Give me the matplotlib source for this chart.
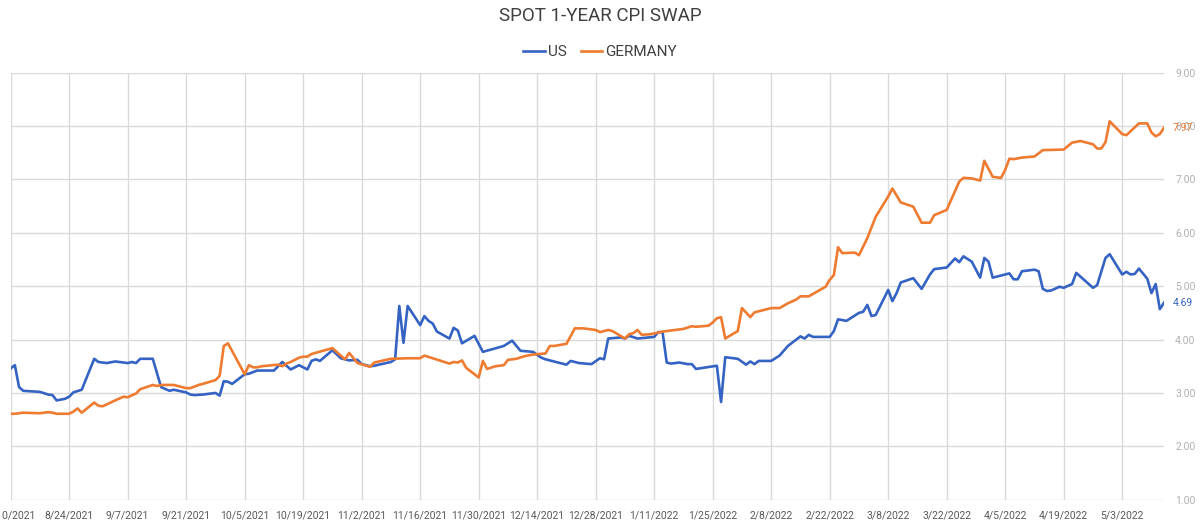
import pandas as pd
import matplotlib.pyplot as plt

plt.rcParams['font.family'] = ['Roboto', 'DejaVu Sans']

# US 1-year CPI swap (date, value)
us_dates = [
    '2021-08-10', '2021-08-11', '2021-08-12', '2021-08-13', '2021-08-17', '2021-08-19', '2021-08-20',
    '2021-08-21', '2021-08-23', '2021-08-24', '2021-08-25', '2021-08-27', '2021-08-30', '2021-08-31',
    '2021-09-02', '2021-09-04', '2021-09-07', '2021-09-08', '2021-09-09', '2021-09-10', '2021-09-13',
    '2021-09-15', '2021-09-17', '2021-09-18', '2021-09-21', '2021-09-22', '2021-09-23', '2021-09-25',
    '2021-09-28', '2021-09-29', '2021-09-30', '2021-10-01', '2021-10-02', '2021-10-05', '2021-10-06',
    '2021-10-08', '2021-10-12', '2021-10-14', '2021-10-16', '2021-10-17', '2021-10-18', '2021-10-20',
    '2021-10-21', '2021-10-22', '2021-10-23', '2021-10-26', '2021-10-28', '2021-10-30', '2021-11-01',
    '2021-11-02', '2021-11-04', '2021-11-05', '2021-11-09', '2021-11-10', '2021-11-11', '2021-11-12',
    '2021-11-13', '2021-11-16', '2021-11-17', '2021-11-18', '2021-11-19', '2021-11-20', '2021-11-23',
    '2021-11-24', '2021-11-25', '2021-11-26', '2021-11-29', '2021-12-01', '2021-12-06', '2021-12-08',
    '2021-12-10', '2021-12-13', '2021-12-15', '2021-12-16', '2021-12-21', '2021-12-22', '2021-12-24',
    '2021-12-27', '2021-12-29', '2021-12-30', '2021-12-31', '2022-01-03', '2022-01-04', '2022-01-05',
    '2022-01-07', '2022-01-11', '2022-01-12', '2022-01-13', '2022-01-14', '2022-01-15', '2022-01-17',
    '2022-01-19', '2022-01-20', '2022-01-21', '2022-01-26', '2022-01-27', '2022-01-28', '2022-01-31',
    '2022-02-02', '2022-02-03', '2022-02-04', '2022-02-05', '2022-02-08', '2022-02-10', '2022-02-12',
    '2022-02-15', '2022-02-16', '2022-02-17', '2022-02-18', '2022-02-22', '2022-02-23', '2022-02-24',
    '2022-02-26', '2022-03-01', '2022-03-02', '2022-03-03', '2022-03-04', '2022-03-05', '2022-03-08',
    '2022-03-09', '2022-03-10', '2022-03-11', '2022-03-14', '2022-03-16', '2022-03-18', '2022-03-19',
    '2022-03-22', '2022-03-24', '2022-03-25', '2022-03-26', '2022-03-28', '2022-03-30', '2022-03-31',
    '2022-04-01', '2022-04-02', '2022-04-05', '2022-04-06', '2022-04-07', '2022-04-08', '2022-04-09',
    '2022-04-12', '2022-04-13', '2022-04-14', '2022-04-15', '2022-04-16', '2022-04-18', '2022-04-19',
    '2022-04-21', '2022-04-22', '2022-04-26', '2022-04-27', '2022-04-29', '2022-04-30', '2022-05-03',
    '2022-05-04', '2022-05-05', '2022-05-06', '2022-05-07', '2022-05-09', '2022-05-10', '2022-05-11',
    '2022-05-12', '2022-05-13',
]
us_values = [
    3.46, 3.52, 3.11, 3.04, 3.02, 2.97, 2.96,
    2.86, 2.89, 2.93, 3.01, 3.06, 3.64, 3.58,
    3.56, 3.59, 3.56, 3.58, 3.56, 3.64, 3.64,
    3.11, 3.04, 3.06, 3.01, 2.97, 2.96, 2.97,
    3.00, 2.95, 3.22, 3.21, 3.17, 3.35, 3.36,
    3.42, 3.42, 3.58, 3.44, 3.48, 3.52, 3.44,
    3.60, 3.63, 3.60, 3.80, 3.65, 3.61, 3.62,
    3.54, 3.50, 3.51, 3.58, 3.63, 4.63, 3.94,
    4.63, 4.27, 4.44, 4.35, 4.30, 4.15, 4.02,
    4.22, 4.17, 3.93, 4.07, 3.77, 3.88, 3.98,
    3.79, 3.77, 3.66, 3.63, 3.53, 3.60, 3.56,
    3.54, 3.65, 3.63, 4.02, 4.04, 4.02, 4.07,
    4.02, 4.05, 4.14, 4.14, 3.57, 3.55, 3.57,
    3.54, 3.54, 3.45, 3.51, 2.83, 3.67, 3.64,
    3.53, 3.59, 3.54, 3.60, 3.60, 3.70, 3.88,
    4.06, 4.02, 4.09, 4.05, 4.05, 4.16, 4.38,
    4.35, 4.50, 4.52, 4.65, 4.44, 4.46, 4.93,
    4.72, 4.87, 5.07, 5.15, 4.95, 5.22, 5.32,
    5.35, 5.52, 5.45, 5.56, 5.46, 5.16, 5.53,
    5.46, 5.16, 5.22, 5.24, 5.13, 5.13, 5.28,
    5.31, 5.28, 4.95, 4.91, 4.92, 4.99, 4.97,
    5.04, 5.25, 4.97, 5.02, 5.53, 5.60, 5.22,
    5.27, 5.22, 5.23, 5.33, 5.14, 4.87, 5.04,
    4.57, 4.69,
]

# Germany 1-year CPI swap (date, value)
de_dates = [
    '2021-08-10', '2021-08-11', '2021-08-13', '2021-08-17', '2021-08-19', '2021-08-20', '2021-08-21',
    '2021-08-24', '2021-08-25', '2021-08-26', '2021-08-27', '2021-08-30', '2021-08-31', '2021-09-01',
    '2021-09-04', '2021-09-06', '2021-09-07', '2021-09-09', '2021-09-10', '2021-09-13', '2021-09-14',
    '2021-09-15', '2021-09-18', '2021-09-21', '2021-09-22', '2021-09-24', '2021-09-25', '2021-09-28',
    '2021-09-29', '2021-09-30', '2021-10-01', '2021-10-05', '2021-10-06', '2021-10-07', '2021-10-08',
    '2021-10-09', '2021-10-13', '2021-10-14', '2021-10-15', '2021-10-16', '2021-10-18', '2021-10-19',
    '2021-10-20', '2021-10-21', '2021-10-26', '2021-10-29', '2021-10-30', '2021-11-01', '2021-11-04',
    '2021-11-05', '2021-11-09', '2021-11-13', '2021-11-16', '2021-11-17', '2021-11-23', '2021-11-24',
    '2021-11-25', '2021-11-26', '2021-11-27', '2021-11-30', '2021-12-01', '2021-12-02', '2021-12-04',
    '2021-12-06', '2021-12-07', '2021-12-09', '2021-12-11', '2021-12-13', '2021-12-16', '2021-12-17',
    '2021-12-18', '2021-12-21', '2021-12-23', '2021-12-25', '2021-12-28', '2021-12-29', '2021-12-31',
    '2022-01-01', '2022-01-04', '2022-01-05', '2022-01-06', '2022-01-07', '2022-01-08', '2022-01-10',
    '2022-01-12', '2022-01-13', '2022-01-18', '2022-01-20', '2022-01-21', '2022-01-24', '2022-01-25',
    '2022-01-26', '2022-01-27', '2022-01-28', '2022-01-31', '2022-02-01', '2022-02-03', '2022-02-04',
    '2022-02-06', '2022-02-08', '2022-02-10', '2022-02-12', '2022-02-14', '2022-02-15', '2022-02-17',
    '2022-02-21', '2022-02-22', '2022-02-23', '2022-02-24', '2022-02-25', '2022-02-28', '2022-03-01',
    '2022-03-03', '2022-03-05', '2022-03-08', '2022-03-09', '2022-03-11', '2022-03-14', '2022-03-16',
    '2022-03-18', '2022-03-19', '2022-03-22', '2022-03-25', '2022-03-26', '2022-03-28', '2022-03-30',
    '2022-03-31', '2022-04-02', '2022-04-04', '2022-04-05', '2022-04-06', '2022-04-07', '2022-04-09',
    '2022-04-12', '2022-04-14', '2022-04-19', '2022-04-21', '2022-04-23', '2022-04-26', '2022-04-27',
    '2022-04-28', '2022-04-29', '2022-04-30', '2022-05-03', '2022-05-04', '2022-05-07', '2022-05-09',
    '2022-05-10', '2022-05-11', '2022-05-12', '2022-05-13',
]
de_values = [
    2.61, 2.61, 2.63, 2.62, 2.64, 2.63, 2.61,
    2.61, 2.65, 2.71, 2.63, 2.82, 2.76, 2.75,
    2.86, 2.93, 2.92, 2.99, 3.07, 3.15, 3.13,
    3.15, 3.15, 3.09, 3.09, 3.15, 3.17, 3.24,
    3.32, 3.88, 3.93, 3.35, 3.52, 3.48, 3.48,
    3.50, 3.53, 3.50, 3.55, 3.58, 3.66, 3.68,
    3.68, 3.73, 3.84, 3.63, 3.75, 3.56, 3.49,
    3.57, 3.64, 3.65, 3.65, 3.70, 3.55, 3.58,
    3.57, 3.61, 3.47, 3.29, 3.60, 3.45, 3.50,
    3.52, 3.62, 3.64, 3.69, 3.72, 3.74, 3.88,
    3.88, 3.92, 4.21, 4.21, 4.18, 4.14, 4.18,
    4.16, 4.02, 4.10, 4.12, 4.18, 4.09, 4.10,
    4.13, 4.15, 4.20, 4.25, 4.24, 4.26, 4.32,
    4.40, 4.42, 4.02, 4.16, 4.59, 4.42, 4.51,
    4.55, 4.59, 4.59, 4.68, 4.75, 4.81, 4.81,
    4.99, 5.12, 5.21, 5.73, 5.62, 5.63, 5.58,
    5.90, 6.30, 6.68, 6.83, 6.57, 6.49, 6.19,
    6.19, 6.33, 6.43, 6.96, 7.03, 7.02, 6.98,
    7.35, 7.05, 7.03, 7.18, 7.39, 7.38, 7.41,
    7.43, 7.55, 7.56, 7.69, 7.72, 7.66, 7.58,
    7.58, 7.70, 8.09, 7.85, 7.83, 8.05, 8.05,
    7.88, 7.81, 7.85, 7.97,
]

y_ticks = [1, 2, 3, 4, 5, 6, 7, 8, 9]

us_color = '#3563c3'
de_color = '#ee7b30'

us = pd.Series(us_values, index=pd.to_datetime(us_dates))
de = pd.Series(de_values, index=pd.to_datetime(de_dates))

fig = plt.figure(figsize=(12, 5.25), dpi=100)
ax = fig.add_axes([0.0089, 0.0482, 0.9611, 0.8133])

ax.plot(us.index, us.values, color=us_color, linewidth=1.9, label='US')
ax.plot(de.index, de.values, color=de_color, linewidth=1.9, label='GERMANY')

# two-week ticks starting from the first date
x_ticks = pd.date_range(us.index[0], us.index[-1], freq='14D')
ax.set_xticks(x_ticks)
ax.set_xticklabels([f'{d.month}/{d.day}/{d.year}' for d in x_ticks])
ax.set_xlim(us.index[0], us.index[-1])

ax.set_ylim(1, 9)
ax.set_yticks(y_ticks)
ax.set_yticklabels([f'{v:.2f}' for v in y_ticks])
ax.yaxis.tick_right()

ax.grid(True, color='#d9d9d9', linewidth=1)
ax.set_axisbelow(True)
for s in ax.spines.values():
    s.set_visible(False)
ax.tick_params(axis='y', length=0, pad=8, labelsize=7.5, labelcolor='#b0b0b0')
ax.tick_params(axis='x', length=0, pad=8, labelsize=7.5, labelcolor='#595959')

# last value labels on the right
for series, color in [(de, de_color), (us, us_color)]:
    ax.annotate(f'{series.values[-1]:.2f}', xy=(1, series.values[-1]),
                xycoords=('axes fraction', 'data'), xytext=(6, 0),
                textcoords='offset points', va='center', ha='left',
                fontsize=7.5, color=color)

fig.suptitle('SPOT 1-YEAR CPI SWAP', y=0.987, fontsize=13.5, color='#404040')
fig.legend(loc='upper center', bbox_to_anchor=(0.5, 0.94), ncol=2, frameon=False,
           fontsize=11, handlelength=1.4, handletextpad=0.2, columnspacing=0.9,
           labelcolor='#404040')

plt.savefig('out.png', dpi=100)
